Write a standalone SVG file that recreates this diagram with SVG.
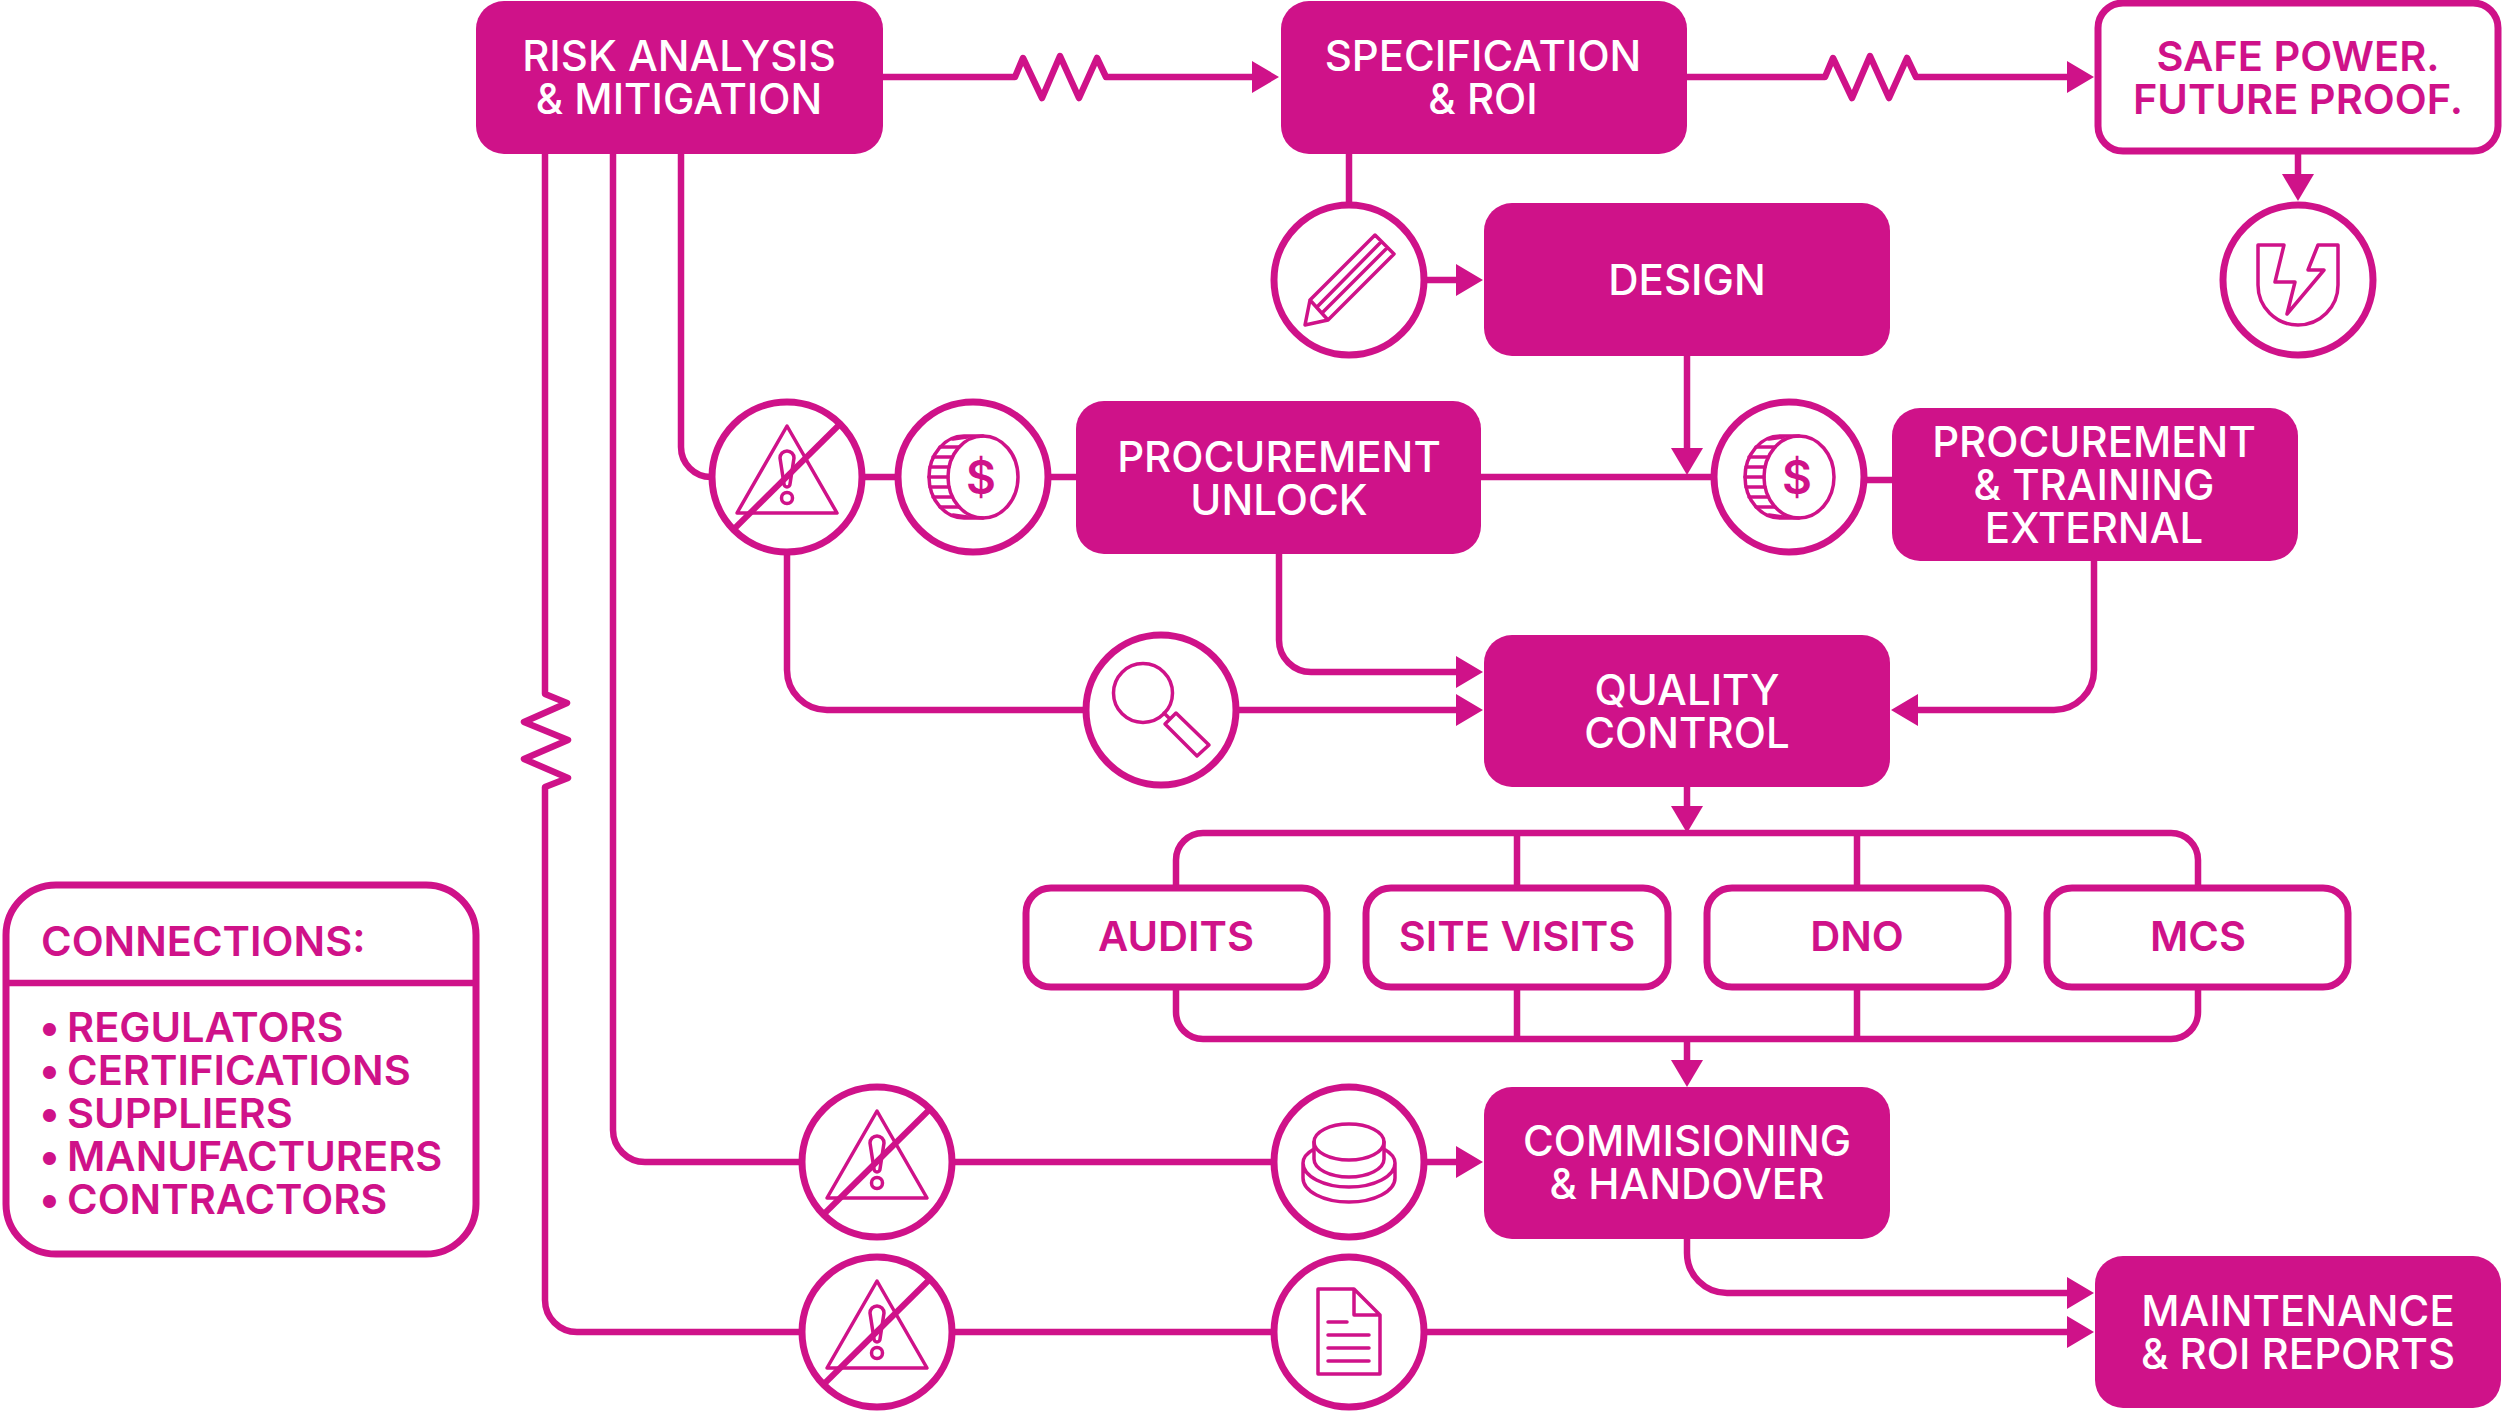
<svg xmlns="http://www.w3.org/2000/svg" width="2503" height="1412" viewBox="0 0 2503 1412">
<style>
.c{fill:none;stroke:#cf1289;stroke-width:6.5;stroke-linejoin:round}
.a{marker-end:url(#ah)}
.f{fill:#cf1289}
.o{fill:#fff;stroke:#cf1289;stroke-width:7}
.ring{fill:#fff;stroke:#cf1289;stroke-width:7}
.i{fill:none;stroke:#cf1289;stroke-width:3.5;stroke-linejoin:round;stroke-linecap:round}
text{font-family:Inter,"Liberation Sans",sans-serif;font-size:42px}
.w{fill:#fff;font-weight:500;text-anchor:middle}
.p{fill:#cf1289;font-weight:600;font-size:41.6px}
.m{text-anchor:middle}
</style>
<defs>
<marker id="ah" markerUnits="userSpaceOnUse" markerWidth="27" markerHeight="32" refX="17" refY="16" orient="auto"><path d="M0,0L27,16L0,32Z" fill="#cf1289"/></marker>
<g id="warn"><circle class="ring" r="75"/><path class="i" d="M0,-51L50,36H-50Z"/><path class="i" d="M-7,-19A7,7 0 0 1 7,-19L3,7A3,3 0 0 1 -3,7Z"/><circle class="i" cy="21" r="5.5"/><path d="M-52,51L52,-52" fill="none" stroke="#cf1289" stroke-width="6"/></g>
<g id="coin"><circle class="ring" r="75"/><path class="i" d="M10,-41H-9A35,41 0 0 0 -9,41H10"/><ellipse class="i" cx="10" rx="35" ry="41"/><path class="i" d="M-44,0H-25M-43,-10H-24M-43,10H-24M-40,-20H-21M-40,20H-21M-33,-30H-14M-33,30H-14M-20,-38L-6,-40M-20,38L-6,40"/><text x="8" y="17" class="p m" style="font-size:46px">$</text></g>
</defs>
<g id="connectors">
<path class="c a" d="M883,77H1015L1023,58L1042,98L1060,56L1079,98L1097,58L1106,77H1269"/>
<path class="c a" d="M1687,77H1825L1833,58L1852,98L1870,56L1889,98L1907,58L1916,77H2084"/>
<path class="c a" d="M2298,153V191"/>
<path class="c" d="M1349,153V210"/>
<path class="c a" d="M1420,280H1473"/>
<path class="c a" d="M1687,356V465"/>
<path class="c" d="M1481,477H1720"/>
<path class="c" d="M1860,480H1893"/>
<path class="c" d="M860,477H900M1045,477H1076"/>
<path class="c" d="M681,153V447A30,30 0 0 0 711,477"/>
<path class="c a" d="M787,550V670A40,40 0 0 0 827,710H1090M1235,710H1473"/>
<path class="c a" d="M1279,554V640A32,32 0 0 0 1311,672H1473"/>
<path class="c a" d="M2094,560V670A40,40 0 0 1 2054,710H1901"/>
<path class="c a" d="M1687,786V823"/>
<path class="c" d="M1176,886V860A27,27 0 0 1 1203,833H2171A27,27 0 0 1 2198,860V886M1517,833V886M1857,833V886"/>
<path class="c" d="M1176,988V1012A27,27 0 0 0 1203,1039H2171A27,27 0 0 0 2198,1012V988M1517,988V1039M1857,988V1039"/>
<path class="c a" d="M1687,1039V1077"/>
<path class="c" d="M613,153V1130A32,32 0 0 0 645,1162H810M945,1162H1280"/>
<path class="c a" d="M1420,1162H1473"/>
<path class="c a" d="M545,153V694L567,703L524,722L568,740L524,759L568,778L545,787V1300A32,32 0 0 0 577,1332H810M945,1332H1280M1420,1332H2084"/>
<path class="c a" d="M1687,1239V1253A40,40 0 0 0 1727,1293H2084"/>
</g>
<g id="risk"><rect class="f" x="476" y="1" width="407" height="153" rx="28"/><text class="w" x="679" y="71">RISK ANALYSIS</text><text class="w" x="679" y="114">&amp; MITIGATION</text></g>
<g id="spec"><rect class="f" x="1281" y="1" width="406" height="153" rx="28"/><text class="w" x="1483" y="71">SPECIFICATION</text><text class="w" x="1483" y="114">&amp; ROI</text></g>
<g id="safe"><rect class="o" x="2098" y="3" width="400" height="148" rx="25"/><text class="p m" x="2298" y="71">SAFE POWER.</text><text class="p m" x="2298" y="114">FUTURE PROOF.</text></g>
<g id="design"><rect class="f" x="1484" y="203" width="406" height="153" rx="28"/><text class="w" x="1687" y="295">DESIGN</text></g>
<g id="procurement-unlock"><rect class="f" x="1076" y="401" width="405" height="153" rx="28"/><text class="w" x="1279" y="472">PROCUREMENT</text><text class="w" x="1279" y="515">UNLOCK</text></g>
<g id="procurement-training"><rect class="f" x="1892" y="408" width="406" height="153" rx="28"/><text class="w" x="2094" y="457">PROCUREMENT</text><text class="w" x="2094" y="500">&amp; TRAINING</text><text class="w" x="2094" y="543">EXTERNAL</text></g>
<g id="quality"><rect class="f" x="1484" y="635" width="406" height="152" rx="28"/><text class="w" x="1687" y="705">QUALITY</text><text class="w" x="1687" y="748">CONTROL</text></g>
<g id="audits"><rect class="o" x="1026" y="888" width="301" height="99" rx="25"/><text class="p m" x="1176" y="951">AUDITS</text></g>
<g id="site-visits"><rect class="o" x="1366" y="888" width="302" height="99" rx="25"/><text class="p m" x="1517" y="951">SITE VISITS</text></g>
<g id="dno"><rect class="o" x="1707" y="888" width="301" height="99" rx="25"/><text class="p m" x="1857" y="951">DNO</text></g>
<g id="mcs"><rect class="o" x="2047" y="888" width="301" height="99" rx="25"/><text class="p m" x="2198" y="951">MCS</text></g>
<g id="commissioning"><rect class="f" x="1484" y="1087" width="406" height="152" rx="28"/><text class="w" x="1687" y="1156">COMMISIONING</text><text class="w" x="1687" y="1199">&amp; HANDOVER</text></g>
<g id="maintenance"><rect class="f" x="2095" y="1256" width="406" height="152" rx="28"/><text class="w" x="2298" y="1326">MAINTENANCE</text><text class="w" x="2298" y="1369">&amp; ROI REPORTS</text></g>
<g id="connections"><rect class="o" x="6" y="885" width="470" height="369" rx="50"/><path class="c" d="M6,983H476"/><text class="p" x="41" y="956">CONNECTIONS:</text>
<text class="p" x="39" y="1042">•</text><text class="p" x="67" y="1042">REGULATORS</text>
<text class="p" x="39" y="1085">•</text><text class="p" x="67" y="1085">CERTIFICATIONS</text>
<text class="p" x="39" y="1128">•</text><text class="p" x="67" y="1128">SUPPLIERS</text>
<text class="p" x="39" y="1171">•</text><text class="p" x="67" y="1171">MANUFACTURERS</text>
<text class="p" x="39" y="1214">•</text><text class="p" x="67" y="1214">CONTRACTORS</text></g>
<g id="icon-pencil" transform="translate(1349,280)"><circle class="ring" r="75"/><path class="i" d="M-44,45L-39,20L26,-45L45,-26L-21,40ZM-39,20L-21,40M-32,27L32,-38M-27,33L38,-32"/></g>
<g id="icon-shield" transform="translate(2298,280)"><circle class="ring" r="75"/><path class="i" d="M-40,-35H-14L-23,2H-3L-11,34L26,-10H10L20,-35H40V5A40,40 0 0 1 -40,5Z"/></g>
<use id="icon-warn-1" href="#warn" x="787" y="477"/>
<use id="icon-coin-1" href="#coin" x="973" y="477"/>
<use id="icon-coin-2" href="#coin" x="1789" y="477"/>
<g id="icon-magnifier" transform="translate(1161,710)"><circle class="ring" r="75"/><circle class="i" cx="-18" cy="-17" r="29.5"/><path class="i" d="M15,3L48,35L36,46L4,14ZM3,3L9,9"/></g>
<use id="icon-warn-2" href="#warn" x="877" y="1162"/>
<use id="icon-warn-3" href="#warn" x="877" y="1332"/>
<g id="icon-stack" transform="translate(1349,1162)"><circle class="ring" r="75"/><ellipse class="i" cy="-20" rx="35" ry="18"/><path class="i" d="M-35,-20V-3A35,18 0 0 0 35,-3V-20M-35,-13C-42,-9 -46,-5 -46,1A46,24 0 0 0 46,1C46,-5 42,-9 35,-13M-46,1V16A46,24 0 0 0 46,16V1"/></g>
<g id="icon-doc" transform="translate(1349,1332)"><circle class="ring" r="75"/><path class="i" d="M-31,-43H5L31,-17V42H-31ZM5,-43V-17H31M-21,-10H-2M-21,3H20M-21,16H20M-21,29H20"/></g>
</svg>
